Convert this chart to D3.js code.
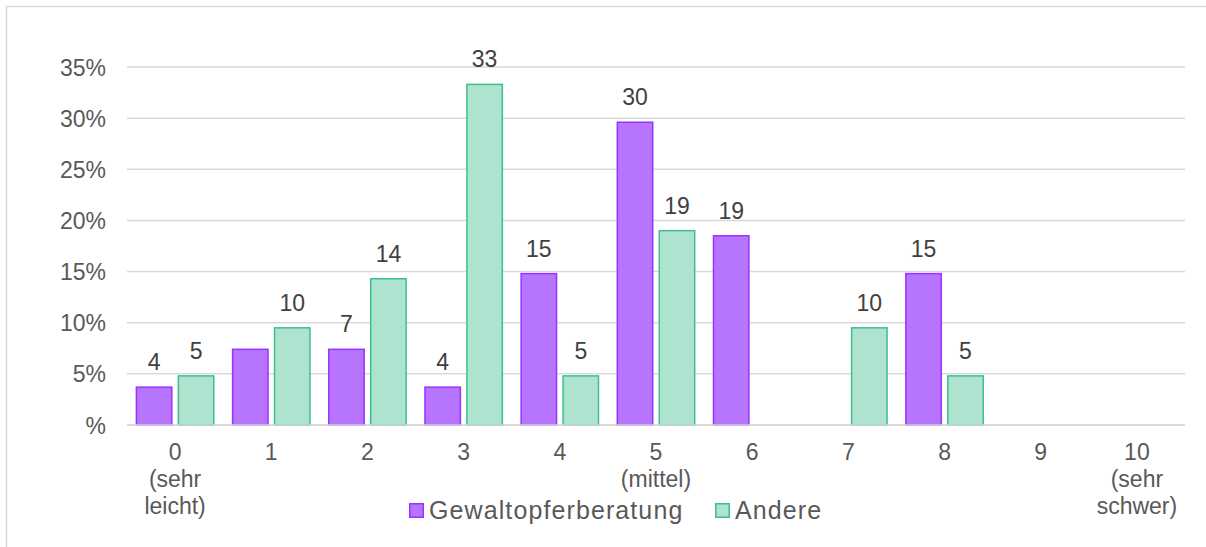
<!DOCTYPE html>
<html><head><meta charset="utf-8">
<script src="https://cdn.jsdelivr.net/npm/d3@7"></script>
<style>
html,body{margin:0;padding:0;background:#fff;}
svg{display:block;font-family:"Liberation Sans",Arial,sans-serif;}
</style></head>
<body>
<svg id="chart" width="1206" height="547"></svg>
<script>
const categories = ["0","1","2","3","4","5","6","7","8","9","10"];
const categoryLines = [["0","(sehr","leicht)"],["1"],["2"],["3"],["4"],["5","(mittel)"],["6"],["7"],["8"],["9"],["10","(sehr","schwer)"]];
const seriesNames = ["Gewaltopferberatung","Andere"];
const gewaltValues = [3.7,7.4,7.4,3.7,14.8,29.6,18.5,0,14.8,0,0];
const andereValues = [4.8,9.5,14.3,33.3,4.8,19.0,0,9.5,4.8,0,0];
const gewaltLabels = ["4",null,"7","4","15","30","19",null,"15",null,null];
const andereLabels = ["5","10","14","33","5","19",null,"10","5",null,null];
const yTicks = [0,5,10,15,20,25,30,35];

(function(){
const fills = ["#b775ff","#aee4cf"];
const strokes = ["#9933ff","#3dbf8b"];

const svg = d3.select("#chart");
const pl = 127, pr = 1185, pt = 67, pb = 425;

// outer border (only top & left visible)
svg.append("rect").attr("x",6.5).attr("y",6.5).attr("width",1300).attr("height",700)
  .attr("fill","none").attr("stroke","#d9d9d9").attr("stroke-width",1.5);

const y = d3.scaleLinear().domain([0,35]).range([pb, pt]);
const x0 = d3.scaleBand().domain(categories).range([pl,pr]).paddingInner(0.18).paddingOuter(0.09);
const x1 = d3.scaleBand().domain(seriesNames).range([0,x0.bandwidth()]).paddingInner(0.12);

// gridlines
svg.append("g").selectAll("line").data(yTicks).join("line")
  .attr("x1",pl).attr("x2",pr)
  .attr("y1",d=>y(d)).attr("y2",d=>y(d))
  .attr("stroke","#d9d9d9").attr("stroke-width",1.5);

// y axis labels
const yAxis = d3.axisLeft(y).tickValues(yTicks).tickSize(0).tickPadding(0)
  .tickFormat(d=> d===0 ? "%" : d+"%");
const ya = svg.append("g").attr("transform",`translate(${pl-21},0)`).call(yAxis);
ya.select(".domain").remove();
ya.selectAll("text").attr("font-size",23).attr("fill","#595959")
  .attr("font-family","Liberation Sans, Arial, sans-serif").attr("dy","0.35em");

// bars
const data = categories.map((c,i)=>({c, vals:[
  {s:seriesNames[0], v:gewaltValues[i], l:gewaltLabels[i], k:0},
  {s:seriesNames[1], v:andereValues[i], l:andereLabels[i], k:1}]}));

const groups = svg.append("g").selectAll("g").data(data).join("g")
  .attr("transform",d=>`translate(${x0(d.c)},0)`);
groups.selectAll("rect").data(d=>d.vals.filter(v=>v.v>0)).join("rect")
  .attr("x",d=>x1(d.s)+0.75).attr("width",x1.bandwidth()-1.5)
  .attr("y",d=>y(d.v)).attr("height",d=>pb - y(d.v))
  .attr("fill",d=>fills[d.k]).attr("stroke",d=>strokes[d.k]).attr("stroke-width",1.5);
groups.selectAll("text").data(d=>d.vals.filter(v=>v.l)).join("text")
  .attr("x",d=>x1(d.s)+x1.bandwidth()/2).attr("y",d=>y(d.v)-17)
  .attr("text-anchor","middle").attr("font-size",23).attr("fill","#404040")
  .text(d=>d.l);

// x axis baseline
svg.append("line").attr("x1",pl).attr("x2",pr).attr("y1",pb).attr("y2",pb)
  .attr("stroke","#d9d9d9").attr("stroke-width",1.5);
const xa = svg.append("g");
categories.forEach((c,i)=>{
  const cx = x0(c)+x0.bandwidth()/2;
  const t = xa.append("text").attr("x",cx).attr("y",460)
    .attr("text-anchor","middle").attr("font-size",23).attr("fill","#595959");
  categoryLines[i].forEach((ln,j)=>{
    t.append("tspan").attr("x",cx).attr("y",460+j*27).text(ln);
  });
});

// legend
const legendX = [409, 715];
const lg = svg.append("g");
seriesNames.forEach((s,i)=>{
  lg.append("rect").attr("x",legendX[i]+0.75).attr("y",503.75).attr("width",13.5).attr("height",13.5)
    .attr("fill",fills[i]).attr("stroke",strokes[i]).attr("stroke-width",1.5);
  lg.append("text").attr("x",legendX[i]+20).attr("y",519).attr("font-size",25)
    .attr("letter-spacing",1.1).attr("fill","#595959").text(s);
});
})();
</script>
</body></html>
